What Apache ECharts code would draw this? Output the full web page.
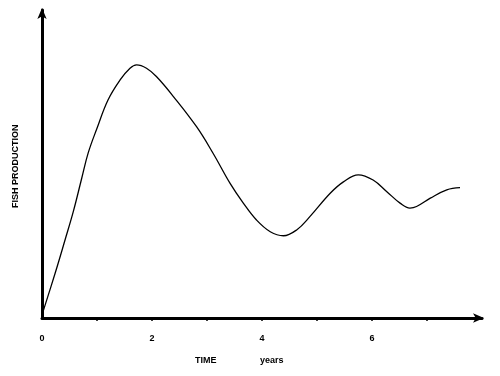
<!DOCTYPE html>
<html>
<head>
<meta charset="utf-8">
<script src="https://cdn.jsdelivr.net/npm/echarts@6/dist/echarts.min.js"></script>
<style>
  html, body { margin: 0; padding: 0; background: #fff; }
  #chart { width: 500px; height: 376px; }
</style>
</head>
<body>
<div id="chart"></div>
<script>
// time in years
const years = [0, 0.24, 0.42, 0.57, 0.72, 0.84, 1.0, 1.2, 1.42, 1.6, 1.72, 1.9, 2.08, 2.39, 2.81,
  3.11, 3.42, 3.66, 3.9, 4.15, 4.39, 4.63, 4.87, 5.24, 5.48, 5.75, 6.02, 6.27, 6.51, 6.69, 6.81,
  7.06, 7.36, 7.6]
// fish production (relative units, axis has no scale)
const production = [1, 14.6, 25.4, 34.6, 45.2, 53.6, 61.6, 70.8, 77.3, 81.1, 82.2, 81.1, 78.4, 71.9, 62.1,
  53.5, 43.7, 37.3, 31.8, 28.0, 26.7, 28.6, 32.9, 40.5, 44.2, 46.5, 44.8, 41.0, 37.3, 35.7, 36.2,
  38.9, 41.6, 42.3]
const tickValues = [1, 2, 3, 4, 5, 6, 7]
const labelValues = [0, 2, 4, 6]

var myChart = echarts.init(document.getElementById("chart"))

const textStyle = { fontSize: 9, fontWeight: "bold", fontFamily: "Liberation Sans", fill: "#000" }

let option = {
  animation: false,
  grid: { left: 42, right: 18, top: 10, bottom: 58 },
  xAxis: {
    type: "value",
    min: 0,
    max: 8,
    interval: 1,
    splitLine: { show: false },
    axisLine: {
      lineStyle: { color: "#000", width: 3 },
      symbol: ["none", "arrow"],
      symbolSize: [7, 11],
      symbolOffset: [0, 2]
    },
    axisTick: {
      show: true,
      customValues: tickValues,
      length: 3,
      lineStyle: { color: "#000", width: 1.5 }
    },
    axisLabel: {
      customValues: labelValues,
      margin: 16,
      fontSize: 9,
      fontFamily: "Liberation Sans",
      fontWeight: "bold",
      color: "#000"
    }
  },
  yAxis: {
    type: "value",
    min: 0,
    max: 100,
    splitLine: { show: false },
    axisLine: {
      show: true,
      lineStyle: { color: "#000", width: 3 },
      symbol: ["none", "arrow"],
      symbolSize: [7, 11],
      symbolOffset: [0, 2]
    },
    axisTick: { show: false },
    axisLabel: { show: false }
  },
  graphic: [
    { type: "text", left: 195, top: 356, style: Object.assign({ text: "TIME" }, textStyle) },
    { type: "text", left: 260, top: 356, style: Object.assign({ text: "years" }, textStyle) },
    {
      type: "text",
      x: 11,
      y: 208,
      rotation: Math.PI / 2,
      style: Object.assign({ text: "FISH PRODUCTION" }, textStyle)
    }
  ],
  series: [
    {
      type: "line",
      data: years.map((t, i) => [t, production[i]]),
      smooth: 0.4,
      showSymbol: false,
      lineStyle: { color: "#000", width: 1.3 }
    }
  ]
}

myChart.setOption(option)
</script>
</body>
</html>
